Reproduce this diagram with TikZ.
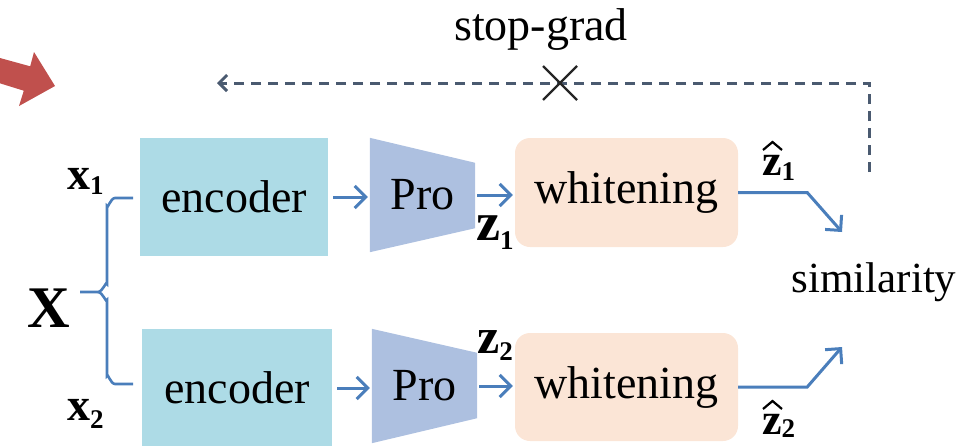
\documentclass[tikz,border=0pt]{standalone}
\usepackage{fontspec}
\setmainfont{Liberation Serif}
\usetikzlibrary{arrows.meta,backgrounds}
\definecolor{enccol}{HTML}{ADDBE6}
\definecolor{procol}{HTML}{ADC0E0}
\definecolor{whcol}{HTML}{FBE5D6}
\definecolor{linkcol}{HTML}{4A7EBB}
\definecolor{sgcol}{HTML}{4A5A70}
\definecolor{redcol}{HTML}{C0504D}
% bold symbol with a lowered index
\newcommand{\symsub}[3]{#1\raisebox{-#3}{\fontsize{27}{27}\selectfont #2}}
\begin{document}
\begin{tikzpicture}[x=1pt,y=-1pt,
  txt/.style={font=\fontsize{46}{50}\selectfont, text=black},
  encbox/.style={fill=enccol, minimum width=188pt, minimum height=118pt, inner sep=0pt, txt},
  probox/.style={minimum width=105pt, minimum height=114pt, inner sep=0pt, txt},
  whbox/.style={fill=whcol, rounded corners=15pt, minimum width=223pt, minimum height=108pt, inner sep=0pt, txt},
  flow/.style={draw=linkcol, line width=3pt, -{Straight Barb[length=11pt,width=22pt]}},
  sg/.style={draw=sgcol, line width=3pt, dash pattern=on 10pt off 7pt},
  symb/.style={inner sep=0pt, anchor=base west, font=\fontsize{#1}{#1}\selectfont\bfseries},
  brace/.style={draw=linkcol, line width=2.6pt},
  hatline/.style={draw=black, line width=2.2pt, line join=miter}
]
\useasboundingbox (0,0) rectangle (977,445);

% big red pointer in the corner
\fill[redcol] (-12.7,79.4) -- (-7.3,56) -- (30.2,66.3) -- (34,52) -- (55,86)
  -- (19,106) -- (23.8,90.7) -- cycle;

% processing blocks
\node[encbox] (enc1) at (234,197) {encoder};
\node[encbox, minimum width=190pt] (enc2) at (237,388) {encoder};
\node[probox] (pro1) at (422.5,195) {Pro};
\node[probox] (pro2) at (424.5,386) {Pro};
\node[whbox, minimum height=109pt] (wh1) at (626.5,192.5) {whitening};
\node[whbox] (wh2) at (626.5,387) {whitening};
\begin{scope}[on background layer]
  \fill[procol] (pro1.north west) -- ([yshift=-25pt]pro1.north east)
    -- ([yshift=24pt]pro1.south east) -- (pro1.south west) -- cycle;
  \fill[procol] (pro2.north west) -- ([yshift=-24pt]pro2.north east)
    -- ([yshift=25pt]pro2.south east) -- (pro2.south west) -- cycle;
\end{scope}

% input symbols and the splitting brace
\node[symb=59] (X) at (27,327) {X};
\node[symb=46] (x1) at (67,189) {\symsub{x}{1}{5pt}};
\node[symb=46] (x2) at (67,420) {\symsub{x}{2}{8pt}};
\coordinate (brtip) at (80,292);
\path[brace] (brtip) -- (98,292) to[out=0,in=90] (107,284) -- (107,206)
  to[out=-90,in=180] (115,198) -- (133,198);
\path[brace] (98,292) to[out=0,in=-90] (107,300) -- (107,376)
  to[out=90,in=180] (115,384) -- (133,384);

% forward flow
\draw[flow, shorten <=5pt, shorten >=2pt] (enc1.east) -- (enc1.east -| pro1.west);
\draw[flow, shorten <=5pt, shorten >=2pt] (enc2.east) -- (enc2.east -| pro2.west);
\draw[flow, shorten <=2pt, shorten >=2pt] (pro1.east) -- (pro1.east -| wh1.west);
\draw[flow, shorten <=2pt, shorten >=2pt] (pro2.east) -- (pro2.east -| wh2.west);

\node[symb=54] (z1) at (476,240) {\symsub{z}{1}{9pt}};
\node[symb=50] (z2) at (477,353) {\symsub{z}{2}{7pt}};

% outputs meeting at the similarity
\node[txt, font=\fontsize{43}{46}\selectfont, anchor=base, inner sep=0pt] (sim) at (874,292) {similarity};
\coordinate (in1) at (842,232);
\coordinate (in2) at (842,347);
\draw[flow] (wh1.east) -- ++(69,0) -- (in1);
\draw[flow] (wh2.east) -- ++(69,0) -- (in2);
\node[symb=44] (zh1) at (762,175) {z\raisebox{-5pt}{\fontsize{27}{27}\selectfont 1}};
\node[symb=44] (zh2) at (762,434) {z\raisebox{-3pt}{\fontsize{27}{27}\selectfont 2}};
\foreach \h in {zh1,zh2}
  \draw[hatline] ([shift={(1,-25)}]\h.base west) -- ([shift={(10.5,-33)}]\h.base west)
    -- ([shift={(20,-25)}]\h.base west);

% stopped gradient path
\coordinate (sgfrom) at (869,172);
\coordinate (sgto) at (217,83);
\coordinate (cut) at (560,83);
\draw[sg, -{Straight Barb[length=8pt,width=16pt]}] (sgfrom) -- (sgfrom |- sgto) -- (sgto);
\draw[line width=2.4pt, black!85] ([shift={(-17,-17)}]cut) -- ([shift={(17,17)}]cut)
  ([shift={(-17,17)}]cut) -- ([shift={(17,-17)}]cut);
\node[txt, anchor=base, inner sep=0pt] (sgl) at (541,40) {stop-grad};
\end{tikzpicture}
\end{document}
